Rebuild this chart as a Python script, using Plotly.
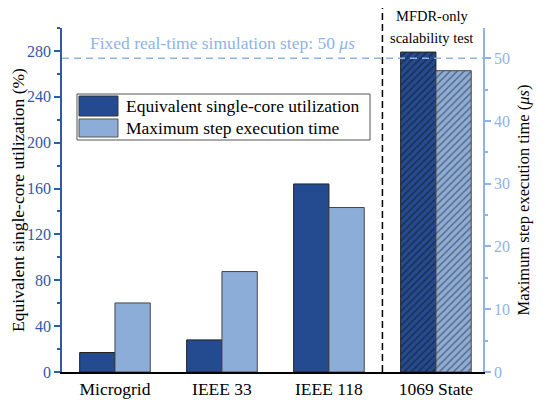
import plotly.graph_objects as go

# data
categories = ["Microgrid", "IEEE 33", "IEEE 118", "1069 State"]
utilization = [17, 28, 164, 279]          # equivalent single-core utilization (%)
step_time = [11.0, 16.0, 26.2, 48.0]      # maximum step execution time (us)
patterns = ["", "", "", "/"]
step_limit = 50                           # fixed real-time step (us)
series_names = ["Equivalent single-core utilization", "Maximum step execution time"]

x = list(range(len(categories)))

dark_blue = "#244B8F"
light_blue = "#8DADD9"
axis_blue = "#2E5AA8"
axis_light = "#8FB3E6"
font_family = "Liberation Serif"

fig = go.Figure()

fig.add_trace(go.Bar(
    x=x, y=utilization,
    name=series_names[0],
    width=0.33, offset=-0.33,
    marker=dict(color=dark_blue, line=dict(color="#222222", width=1),
                pattern=dict(shape=patterns, fgcolor="#111111", size=5, solidity=0.3)),
    yaxis="y",
))

fig.add_trace(go.Bar(
    x=x, y=step_time,
    name=series_names[1],
    width=0.33, offset=0,
    marker=dict(color=light_blue, line=dict(color="#444444", width=1),
                pattern=dict(shape=patterns, fgcolor="#2a2a2a", size=5, solidity=0.3)),
    yaxis="y2",
))

# fixed real-time step line
fig.add_shape(type="line", xref="paper", yref="y2", x0=0, x1=1, y0=step_limit, y1=step_limit,
              line=dict(color=axis_light, width=1.5, dash="7px,5px"), layer="above")

# separator between regular cases and scalability test
fig.add_shape(type="line", xref="x", yref="paper", x0=2.5, x1=2.5, y0=0, y1=1.06,
              line=dict(color="black", width=1.5, dash="7px,4px"), layer="above")

fig.add_annotation(x=0.382, y=0.955, xref="paper", yref="paper",
                   xanchor="center", yanchor="middle",
                   text="Fixed real-time simulation step: 50 <i>μs</i>", showarrow=False,
                   font=dict(family=font_family, size=17.5, color=axis_light))
fig.add_annotation(x=2.96, y=1.035, xref="x", yref="paper", text="MFDR-only",
                   xanchor="center", yanchor="middle",
                   showarrow=False, font=dict(family=font_family, size=14.5, color="black"))
fig.add_annotation(x=2.96, y=0.97, xref="x", yref="paper", text="scalability test",
                   xanchor="center", yanchor="middle",
                   showarrow=False, font=dict(family=font_family, size=14.5, color="black"))

# legend drawn by hand to get the large swatches of the original
fig.add_shape(type="rect", xref="paper", yref="paper", x0=0.0356, x1=0.7316, y0=0.6744, y1=0.8081,
              line=dict(color="#555555", width=1), fillcolor="white", layer="above")
fig.add_shape(type="rect", xref="paper", yref="paper", x0=0.0404, x1=0.133, y0=0.7442, y1=0.8023,
              line=dict(color="#333333", width=1), fillcolor=dark_blue, layer="above")
fig.add_shape(type="rect", xref="paper", yref="paper", x0=0.0404, x1=0.133, y0=0.6831, y1=0.7355,
              line=dict(color="#555555", width=1), fillcolor=light_blue, layer="above")
for name, ypos in zip(series_names, [0.7733, 0.7093]):
    fig.add_annotation(x=0.147, y=ypos, xref="paper", yref="paper", text=name,
                       showarrow=False, xanchor="left", yanchor="middle",
                       font=dict(family=font_family, size=17.5, color="black"))

# page body adds an 8px margin, so the figure is 8px smaller on each axis
fig.update_layout(
    width=542, height=397,
    margin=dict(l=54, r=67, t=20, b=33, autoexpand=False),
    plot_bgcolor="white", paper_bgcolor="white",
    font=dict(family=font_family, size=15, color="black"),
    showlegend=False,
    xaxis=dict(range=[-0.495, 3.44], tickvals=x, ticktext=categories,
               showline=True, linecolor="black", linewidth=1.5, ticks="",
               tickfont=dict(size=17.5), showgrid=False, zeroline=False),
    yaxis=dict(range=[0, 300], tickvals=[0, 40, 80, 120, 160, 200, 240, 280],
               showline=True, linecolor=axis_blue, linewidth=1.5,
               ticks="outside", ticklen=6, tickcolor=axis_blue, tickwidth=1.5,
               minor=dict(dtick=20, ticks="outside", ticklen=3, tickcolor=axis_blue),
               tickfont=dict(color=axis_blue, size=16), showgrid=False, zeroline=False,
               title=dict(text="Equivalent single-core utilization (%)",
                          font=dict(size=17.5, color="black"), standoff=6)),
    yaxis2=dict(range=[0, 54.8], overlaying="y", side="right",
                tickvals=[0, 10, 20, 30, 40, 50],
                showline=True, linecolor=axis_light, linewidth=1.5,
                ticks="outside", ticklen=6, tickcolor=axis_light, tickwidth=1.5,
                minor=dict(dtick=5, ticks="outside", ticklen=3, tickcolor=axis_light),
                tickfont=dict(color=axis_light, size=16), showgrid=False, zeroline=False,
                title=dict(text="Maximum step execution time (<i>μs</i>)",
                           font=dict(size=16.5, color="black"), standoff=8)),
)

fig.write_html("out.html")
